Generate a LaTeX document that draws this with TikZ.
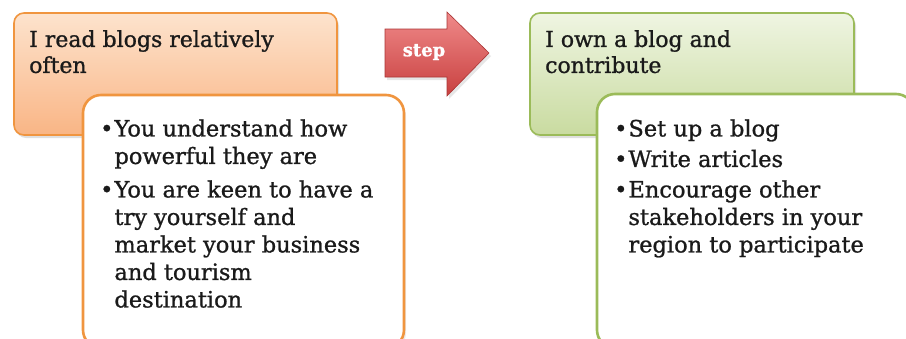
\documentclass[tikz,border=0pt]{standalone}
\usepackage{fontspec}
\setmainfont[FakeBold=1.0]{DejaVu Serif}
\usetikzlibrary{shadows}
\definecolor{orgborder}{HTML}{F0953F}
\definecolor{orgtop}{HTML}{FDE3CD}
\definecolor{orgbot}{HTML}{F9B585}
\definecolor{grnborder}{HTML}{9BBB59}
\definecolor{grntop}{HTML}{EFF5E2}
\definecolor{grnbot}{HTML}{C9DBA0}
\definecolor{redtop}{HTML}{F08A8A}
\definecolor{redbot}{HTML}{C8403F}
\definecolor{txt}{HTML}{1A1A1A}
\tikzset{
  headbox/.style={draw=#1border, line width=1.6pt, rounded corners=10pt,
    drop shadow={shadow xshift=2pt, shadow yshift=-3pt, opacity=0.25}},
  bodybox/.style={draw=#1border, line width=2.6pt, rounded corners=18pt, fill=white,
    drop shadow={shadow xshift=2pt, shadow yshift=-3pt, opacity=0.15}},
  headtext/.style={anchor=north west, align=left, font=\fontsize{22}{26}\selectfont, text=txt, inner sep=0pt},
  bodytext/.style={anchor=north west, align=left, font=\fontsize{22.5}{27.5}\selectfont, text=txt, inner sep=0pt},
}
\begin{document}
\begin{tikzpicture}[x=1pt,y=-1pt]
\useasboundingbox (0,0) rectangle (906,338);
% left head box
\draw[headbox=org, top color=orgtop, bottom color=orgbot] (14,13) rectangle (337,135);
\node[headtext] (lhead) at (29,30) {I read blogs relatively\\often};
% left body box
\draw[bodybox=org] (83,95) rectangle (404,348);
\node[bodytext] (lbody) at (100,117) {%
\begin{tabular}{@{}l@{\hspace{1pt}}l@{}}
•&You understand how\\
 &powerful they are\\[6pt]
•&You are keen to have a\\
 &try yourself and\\
 &market your business\\
 &and tourism\\
 &destination
\end{tabular}};
% arrow
\draw[draw=redbot!85!black, line width=0.6pt, top color=redtop, bottom color=redbot,
  drop shadow={shadow xshift=2pt, shadow yshift=-3pt, opacity=0.2}]
  (385,29) -- (447,29) -- (447,12) -- (489,53) -- (447,96) -- (447,77) -- (385,77) -- cycle;
\node[text=white, font=\bfseries\fontsize{18}{22}\selectfont] (steplbl) at (424,52) {step};
% right head box
\draw[headbox=grn, top color=grntop, bottom color=grnbot] (530,13) rectangle (854,135);
\node[headtext] (rhead) at (545,30) {I own a blog and\\contribute};
% right body box
\draw[bodybox=grn] (597,94) rectangle (914,348);
\node[bodytext] (rbody) at (614,117) {%
\begin{tabular}{@{}l@{\hspace{1pt}}l@{}}
•&Set up a blog\\[3pt]
•&Write articles\\[3pt]
•&Encourage other\\
 &stakeholders in your\\
 &region to participate
\end{tabular}};
\end{tikzpicture}
\end{document}
